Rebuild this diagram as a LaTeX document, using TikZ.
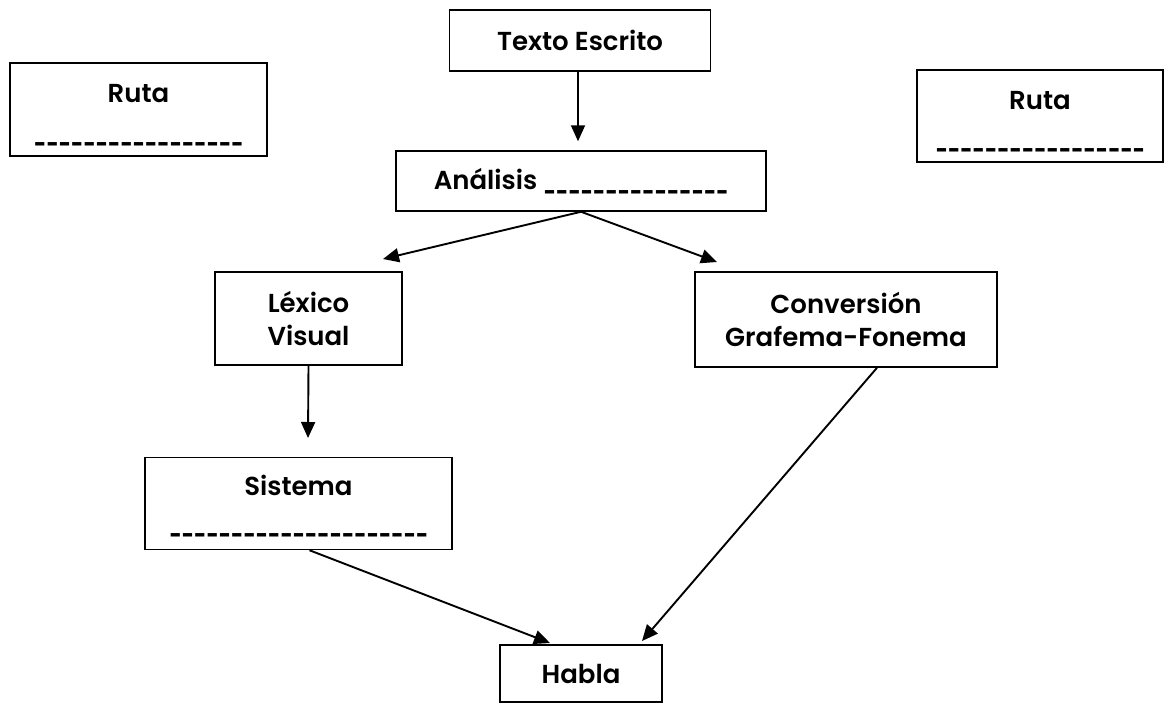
\documentclass[tikz,border=0pt]{standalone}
\usepackage{graphicx}
\usepackage{fontspec}
\setmainfont{Poppins}[BoldFont={* SemiBold}]
\usetikzlibrary{arrows.meta,calc}
\newcommand{\blank}[1]{\scalebox{0.6}[1]{\foreach \i in {1,...,#1}{\_}}}
\begin{document}
\begin{tikzpicture}[x=1pt,y=-1pt,
  box/.style={draw,line width=1.5pt,inner sep=0pt,align=center,
    font=\fontsize{26}{33}\selectfont\bfseries},
  arr/.style={line width=1.9pt,-{Triangle[length=16pt,width=14pt]}}]
\useasboundingbox (0,0) rectangle (1166,705);
\node[box,minimum width=261,minimum height=61] (texto) at (580,40.5) {Texto Escrito};
\node[box,minimum width=370,minimum height=60] (ana) at (581,181) {Análisis \blank{15}};
\node[box,minimum width=257,minimum height=93] (rutaL) at (138.5,109.5) {\rule{0pt}{30pt}Ruta\\[6pt]\blank{17}};
\node[box,minimum width=246,minimum height=92] (rutaR) at (1040,116) {\rule{0pt}{30pt}Ruta\\[5pt]\blank{17}};
\node[box,minimum width=187,minimum height=93] (lex) at (308.5,318.5) {Léxico\\Visual};
\node[box,minimum width=302,minimum height=95] (conv) at (846,319.5) {Conversión\\Grafema-Fonema};
\node[box,minimum width=307,minimum height=92] (sis) at (298.5,503.5) {\rule{0pt}{26pt}Sistema\\[4pt]\blank{21}};
\node[box,minimum width=162,minimum height=57] (habla) at (581,673.5) {Habla};
\coordinate (lexin) at (383,259);
\coordinate (convin) at (717,262);
\coordinate (sisin) at (308,438);
\coordinate (hablaL) at (550,643);
\coordinate (hablaR) at (642,641);
\draw[arr] ($(texto.south)+(-2,0)$) -- ($(ana.north)+(-3,-9)$);
\draw[arr] (ana.south) -- (lexin);
\draw[arr] (ana.south) -- (convin);
\draw[arr] (lex.south) -- (sisin);
\draw[arr] ($(sis.south)+(11,0)$) -- (hablaL);
\draw[arr] ($(conv.south)+(31,0)$) -- (hablaR);
\end{tikzpicture}
\end{document}
